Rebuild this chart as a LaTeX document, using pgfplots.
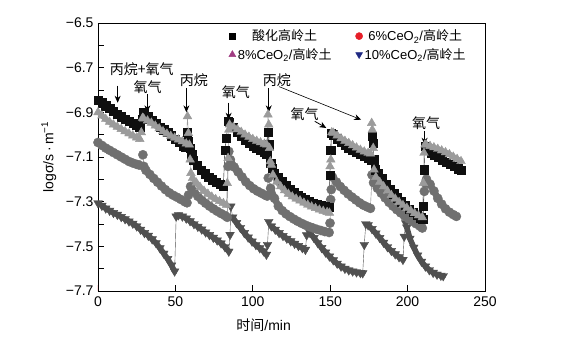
\documentclass[border=0pt]{standalone}
\usepackage{pgfplots}
\usepackage{pgfplotstable}
\pgfplotsset{compat=1.18}
\usepackage{fontspec}
\setmainfont{Liberation Sans}
\newfontfamily\cjk{Noto Sans CJK SC}
\usetikzlibrary{arrows.meta}
\definecolor{cA}{RGB}{15,15,15}
\definecolor{cB}{RGB}{155,155,155}
\definecolor{cC}{RGB}{112,112,112}
\definecolor{cD}{RGB}{80,80,80}
\definecolor{lgB}{RGB}{160,60,130}
\definecolor{lgC}{RGB}{230,30,40}
\definecolor{lgD}{RGB}{30,40,130}
% columns: time, log sigma, b (1 = on a decay band, 0 = transition point)
\pgfplotstableread{
x y b
0 -6.845 1
2.5 -6.857 1
5 -6.870 1
7.5 -6.883 1
10 -6.895 1
12.5 -6.908 1
15 -6.920 1
17.5 -6.930 1
20 -6.940 1
22.5 -6.950 1
25 -6.958 1
27 -6.965 1
28.5 -6.930 0
29.5 -6.900 0
30 -6.905 1
32.5 -6.920 1
35 -6.935 1
37.5 -6.950 1
40 -6.965 1
42.5 -6.978 1
45 -6.990 1
47.5 -7.005 1
50 -7.020 1
52.5 -7.035 1
55 -7.050 1
56.5 -7.057 1
57.5 -6.990 0
58.5 -7.030 0
59.5 -7.060 0
60.5 -7.090 0
61.5 -7.115 1
64 -7.137 1
66.5 -7.158 1
69 -7.175 1
71.5 -7.190 1
74 -7.202 1
76.5 -7.212 1
79 -7.222 1
81 -7.230 1
82 -7.070 0
83 -7.015 0
84 -6.940 0
85 -6.945 1
87.5 -6.968 1
90 -6.990 1
92.5 -7.008 1
95 -7.025 1
97.5 -7.038 1
100 -7.050 1
102.5 -7.060 1
105 -7.070 1
107.5 -7.080 1
109 -7.085 1
109.8 -6.990 0
110.5 -7.045 0
111.5 -7.127 0
112.5 -7.150 0
114 -7.172 1
116.5 -7.190 1
119 -7.208 1
121.5 -7.226 1
124 -7.243 1
126.5 -7.259 1
129 -7.272 1
131.5 -7.282 1
134 -7.290 1
136.5 -7.298 1
139 -7.306 1
141.5 -7.311 1
144 -7.316 1
146.5 -7.320 1
149.2 -7.324 1
149.8 -7.180 0
150.3 -7.070 0
150.8 -6.993 0
152 -7.000 1
154.5 -7.018 1
157 -7.034 1
159.5 -7.047 1
162 -7.058 1
164.5 -7.068 1
167 -7.078 1
169.5 -7.088 1
172 -7.098 1
174.5 -7.105 1
176.5 -7.112 1
177.3 -7.008 0
177.8 -7.037 0
178.3 -7.112 0
179 -7.157 0
181 -7.172 1
183.5 -7.195 1
186 -7.222 1
188.5 -7.245 1
191 -7.264 1
193.5 -7.282 1
196 -7.300 1
198.5 -7.317 1
201 -7.334 1
203.5 -7.348 1
206 -7.360 1
208.5 -7.372 1
209.8 -7.380 1
210.3 -7.321 0
210.8 -7.157 0
211.3 -7.053 0
212.5 -7.070 1
215 -7.082 1
217.5 -7.092 1
220 -7.102 1
222.5 -7.112 1
225 -7.122 1
227.5 -7.132 1
230 -7.142 1
232.5 -7.152 1
234.5 -7.160 1
}\tabA
\pgfplotstableread{
x y b
0 -6.900 1
2.5 -6.915 1
5 -6.930 1
7.5 -6.943 1
10 -6.955 1
12.5 -6.965 1
15 -6.975 1
17.5 -6.985 1
20 -6.995 1
22.5 -7.004 1
25 -7.013 1
27 -7.020 1
28 -6.990 0
28.8 -6.925 0
29.5 -6.928 1
32 -6.937 1
34.5 -6.947 1
37 -6.960 1
39.5 -6.972 1
42 -6.985 1
44.5 -6.996 1
47 -7.006 1
49.5 -7.014 1
52 -7.022 1
54.5 -7.030 1
57 -7.040 1
57.8 -6.918 0
58.4 -6.993 0
59 -7.045 0
59.5 -7.112 0
60 -7.172 0
61 -7.195 1
63.5 -7.215 1
66 -7.235 1
68.5 -7.252 1
71 -7.265 1
73.5 -7.278 1
76 -7.289 1
78.5 -7.298 1
81 -7.307 1
83 -7.315 1
83.5 -7.217 0
84 -7.105 0
84.5 -6.978 0
85 -6.955 1
87.5 -6.965 1
90 -6.976 1
92.5 -6.988 1
95 -7.000 1
97.5 -7.010 1
100 -7.020 1
102.5 -7.028 1
105 -7.035 1
107.5 -7.041 1
109 -7.045 1
109.8 -6.910 0
110.3 -6.955 0
110.8 -7.060 0
111.3 -7.120 0
112 -7.135 0
113 -7.180 1
115.5 -7.211 1
118 -7.232 1
120.5 -7.250 1
123 -7.265 1
125.5 -7.277 1
128 -7.287 1
130.5 -7.295 1
133 -7.305 1
135.5 -7.314 1
138 -7.322 1
140.5 -7.329 1
143 -7.336 1
145.5 -7.342 1
148 -7.347 1
149.5 -7.350 1
149.9 -7.142 0
150.4 -7.112 0
151 -6.990 0
152 -6.992 1
154.5 -7.004 1
157 -7.017 1
159.5 -7.028 1
162 -7.038 1
164.5 -7.048 1
167 -7.058 1
169.5 -7.068 1
172 -7.076 1
174.5 -7.082 1
176 -7.085 1
176.8 -6.948 0
177.2 -6.978 0
177.8 -7.060 0
178.3 -7.157 0
179.5 -7.190 1
182 -7.212 1
184.5 -7.232 1
187 -7.252 1
189.5 -7.271 1
192 -7.287 1
194.5 -7.302 1
197 -7.316 1
199.5 -7.328 1
202 -7.340 1
204.5 -7.352 1
207 -7.362 1
209.5 -7.370 1
210.2 -7.217 0
210.6 -7.082 0
211.2 -7.045 0
212 -7.045 1
214.5 -7.051 1
217 -7.057 1
219.5 -7.064 1
222 -7.071 1
224.5 -7.079 1
227 -7.088 1
229.5 -7.099 1
232 -7.109 1
234.5 -7.119 1
}\tabB
\pgfplotstableread{
x y b
0 -7.035 1
2.5 -7.048 1
5 -7.060 1
7.5 -7.070 1
10 -7.080 1
12.5 -7.090 1
15 -7.100 1
17.5 -7.110 1
20 -7.120 1
22.5 -7.127 1
25 -7.133 1
26.5 -7.136 1
29 -7.090 0
29.6 -7.142 0
31 -7.160 1
33.5 -7.178 1
36 -7.196 1
38.5 -7.213 1
41 -7.230 1
43.5 -7.246 1
46 -7.260 1
48.5 -7.271 1
51 -7.280 1
53.5 -7.290 1
56 -7.300 1
57.5 -7.305 1
58.5 -7.270 0
59.8 -7.232 1
62 -7.255 1
64.5 -7.276 1
67 -7.293 1
69.5 -7.307 1
72 -7.320 1
74.5 -7.332 1
77 -7.343 1
79.5 -7.353 1
82 -7.362 1
83.5 -7.370 1
84 -7.142 0
84.5 -7.075 0
85.5 -7.112 1
88 -7.145 1
90.5 -7.167 1
93 -7.189 1
95.5 -7.211 1
98 -7.228 1
100.5 -7.242 1
103 -7.253 1
105.5 -7.262 1
108 -7.271 1
109.3 -7.275 1
110 -7.194 0
111.5 -7.240 1
114 -7.285 1
116.5 -7.320 1
119 -7.340 1
121.5 -7.355 1
124 -7.367 1
126.5 -7.378 1
129 -7.388 1
131.5 -7.397 1
134 -7.405 1
136.5 -7.412 1
139 -7.418 1
141.5 -7.424 1
144 -7.429 1
146.5 -7.434 1
149.3 -7.438 1
149.9 -7.396 0
150.3 -7.291 0
150.7 -7.246 0
151.5 -7.190 1
154 -7.212 1
156.5 -7.232 1
159 -7.249 1
161.5 -7.265 1
164 -7.279 1
166.5 -7.292 1
169 -7.305 1
171.5 -7.316 1
174 -7.324 1
176 -7.330 1
177 -7.180 0
178 -7.215 1
180.5 -7.240 1
183 -7.262 1
185.5 -7.283 1
188 -7.303 1
190.5 -7.320 1
193 -7.336 1
195.5 -7.350 1
198 -7.364 1
200.5 -7.376 1
203 -7.388 1
205.5 -7.399 1
208 -7.410 1
209.5 -7.418 1
210.8 -7.254 0
211.5 -7.217 0
212.2 -7.200 1
214.5 -7.222 1
217 -7.252 1
219.5 -7.285 1
222 -7.311 1
224.5 -7.332 1
227 -7.347 1
229.5 -7.358 1
231.5 -7.366 1
}\tabC
\pgfplotstableread{
x y b
0 -7.306 1
2.5 -7.318 1
5 -7.330 1
7.5 -7.340 1
10 -7.350 1
12.5 -7.358 1
15 -7.368 1
17.5 -7.378 1
20 -7.388 1
22.5 -7.398 1
25 -7.410 1
27.5 -7.425 1
30 -7.440 1
32.5 -7.452 1
35 -7.468 1
37.5 -7.485 1
40 -7.508 1
42.5 -7.532 1
45 -7.556 1
47.5 -7.585 1
49.5 -7.612 1
50.5 -7.366 0
52 -7.360 1
54.5 -7.366 1
57 -7.375 1
59.5 -7.387 1
62 -7.400 1
64.5 -7.412 1
67 -7.424 1
69.5 -7.437 1
72 -7.449 1
74.5 -7.461 1
77 -7.473 1
79.5 -7.486 1
82 -7.503 1
84.5 -7.523 1
85.3 -7.448 0
85.8 -7.321 0
87 -7.370 1
89.5 -7.395 1
92 -7.417 1
94.5 -7.440 1
97 -7.460 1
99.5 -7.478 1
102 -7.494 1
104.5 -7.508 1
107 -7.522 1
108.8 -7.537 1
109.5 -7.493 0
110.3 -7.390 0
112 -7.410 1
114.5 -7.425 1
117 -7.440 1
119.5 -7.453 1
122 -7.465 1
124.5 -7.477 1
127 -7.488 1
129.5 -7.498 1
132 -7.507 1
134 -7.515 1
134.8 -7.450 0
135.5 -7.415 0
137 -7.440 1
139.5 -7.462 1
142 -7.485 1
144.5 -7.507 1
147 -7.527 1
149.5 -7.545 1
152 -7.562 1
154.5 -7.577 1
157 -7.590 1
159.5 -7.600 1
162 -7.607 1
164.5 -7.612 1
167 -7.616 1
169.5 -7.619 1
171 -7.620 1
172 -7.493 0
173 -7.400 0
174.5 -7.405 1
177 -7.422 1
179.5 -7.442 1
182 -7.462 1
184.5 -7.483 1
187 -7.503 1
189.5 -7.520 1
192 -7.535 1
194.5 -7.548 1
197 -7.560 1
197.8 -7.456 0
198.8 -7.396 0
199.5 -7.415 1
201.5 -7.465 1
204 -7.505 1
206.5 -7.540 1
209 -7.568 1
211.5 -7.590 1
214 -7.606 1
216.5 -7.618 1
219 -7.626 1
221.5 -7.631 1
223 -7.633 1
}\tabD
\begin{document}
\begin{tikzpicture}
\path[use as bounding box] (-98pt,-57pt) rectangle (469pt,291pt);
\begin{axis}[
  scale only axis, width=387pt, height=268pt,
  xmin=0, xmax=250, ymin=-7.7, ymax=-6.5,
  xtick={0,50,100,150,200,250},
  xticklabels={0,50,100,150,200,250},
  ytick={-7.7,-7.5,-7.3,-7.1,-6.9,-6.7,-6.5},
  yticklabels={−7.7,−7.5,−7.3,−7.1,−6.9,−6.7,−6.5},
  minor ytick={-7.6,-7.4,-7.2,-7.0,-6.8,-6.6},
  xtick pos=left, ytick pos=left,
  tick align=inside,
  major tick length=6pt, minor tick length=6pt,
  tick style={black, line width=0.8pt},
  axis line style={line width=0.9pt},
  ticklabel style={font=\fontsize{14}{16}\selectfont},
  xticklabel style={yshift=-2pt},
  yticklabel style={xshift=-1pt},
  xlabel={{\cjk 时间}/min},
  ylabel={logσ/s\,·\,m\textsuperscript{−1}},
  x label style={at={(axis description cs:0.428,0)}, anchor=north, yshift=-24pt, font=\fontsize{14}{16}\selectfont},
  y label style={at={(axis description cs:-0.127,0.5)}, anchor=center, font=\fontsize{14}{16}\selectfont},
  legend columns=2,
  legend image code/.code={\draw[#1, mark repeat=2, mark phase=2] plot coordinates {(0pt,0pt) (5pt,0pt) (10pt,0pt)};},
  legend style={at={(axis description cs:0.33,0.99)}, anchor=north west, draw=none, fill=none,
    font=\fontsize{13}{15}\selectfont, row sep=2pt,
    /tikz/every even column/.append style={column sep=22pt}},
  band/.style={forget plot, no marks, line join=round, line cap=round, unbounded coords=jump, restrict expr to domain={\thisrow{b}}{0.5:1.5}},
]
% 10% CeO2
\addplot[band, cD, line width=5.5pt] table[x=x, y=y] {\tabD};
\addplot[forget plot, cD, line width=0.4pt, mark=triangle*, mark size=5pt, mark options={rotate=180, fill=cD, draw=cD}] table[x=x, y=y] {\tabD};
% 6% CeO2
\addplot[band, cC, line width=6.5pt] table[x=x, y=y] {\tabC};
\addplot[forget plot, cC, line width=0.4pt, mark=*, mark size=4.6pt, mark options={fill=cC, draw=cC}] table[x=x, y=y] {\tabC};
% kaolin
\addplot[band, cA, line width=6.5pt] table[x=x, y=y] {\tabA};
\addplot[forget plot, cA, line width=0.4pt, mark=square*, mark size=4.1pt, mark options={fill=cA, draw=cA}] table[x=x, y=y] {\tabA};
% 8% CeO2
\addplot[band, cB, line width=5.5pt] table[x=x, y=y] {\tabB};
\addplot[forget plot, cB, line width=0.4pt, mark=triangle*, mark size=5pt, mark options={fill=cB, draw=cB}] table[x=x, y=y] {\tabB};
% legend
\addlegendimage{only marks, mark=square*, mark size=3.2pt, black}
\addlegendentry{\cjk 酸化高岭土}
\addlegendimage{only marks, mark=*, mark size=3.6pt, lgC}
\addlegendentry{6\%CeO\textsubscript{2}/{\cjk 高岭土}}
\addlegendimage{only marks, mark=triangle*, mark size=4pt, lgB}
\addlegendentry{8\%CeO\textsubscript{2}/{\cjk 高岭土}}
\addlegendimage{only marks, mark=triangle*, mark size=4pt, mark options={rotate=180}, lgD}
\addlegendentry{10\%CeO\textsubscript{2}/{\cjk 高岭土}}
% annotations
\tikzset{ann/.style={font=\cjk\fontsize{14}{16}\selectfont, inner sep=0pt}, arr/.style={-{Stealth[length=7pt,width=6pt]}, line width=0.8pt, black}}
\node[ann] at (axis cs:28.2,-6.705) {丙烷+氧气};
\draw[arr] (axis cs:12.7,-6.78) -- (axis cs:12.7,-6.857);
\node[ann] at (axis cs:32,-6.786) {氧气};
\draw[arr] (axis cs:31.9,-6.82) -- (axis cs:31.9,-6.90);
\node[ann] at (axis cs:62,-6.758) {丙烷};
\draw[arr] (axis cs:57.1,-6.79) -- (axis cs:57.1,-6.90);
\node[ann] at (axis cs:89,-6.81) {氧气};
\draw[arr] (axis cs:84.4,-6.857) -- (axis cs:84.4,-6.933);
\node[ann] at (axis cs:115.5,-6.758) {丙烷};
\draw[arr] (axis cs:110.3,-6.79) -- (axis cs:110.3,-6.90);
\draw[arr, line width=0.6pt] (axis cs:117,-6.785) -- (axis cs:170,-6.933);
\node[ann] at (axis cs:133.5,-6.91) {氧气};
\draw[arr] (axis cs:140,-6.94) -- (axis cs:147.5,-6.97);
\node[ann] at (axis cs:212,-6.95) {氧气};
\draw[arr] (axis cs:211,-6.985) -- (axis cs:211,-7.045);
\draw[red, line width=1pt] (axis cs:0,-7.7) -- (axis cs:0,-7.675);
\end{axis}
\end{tikzpicture}
\end{document}
